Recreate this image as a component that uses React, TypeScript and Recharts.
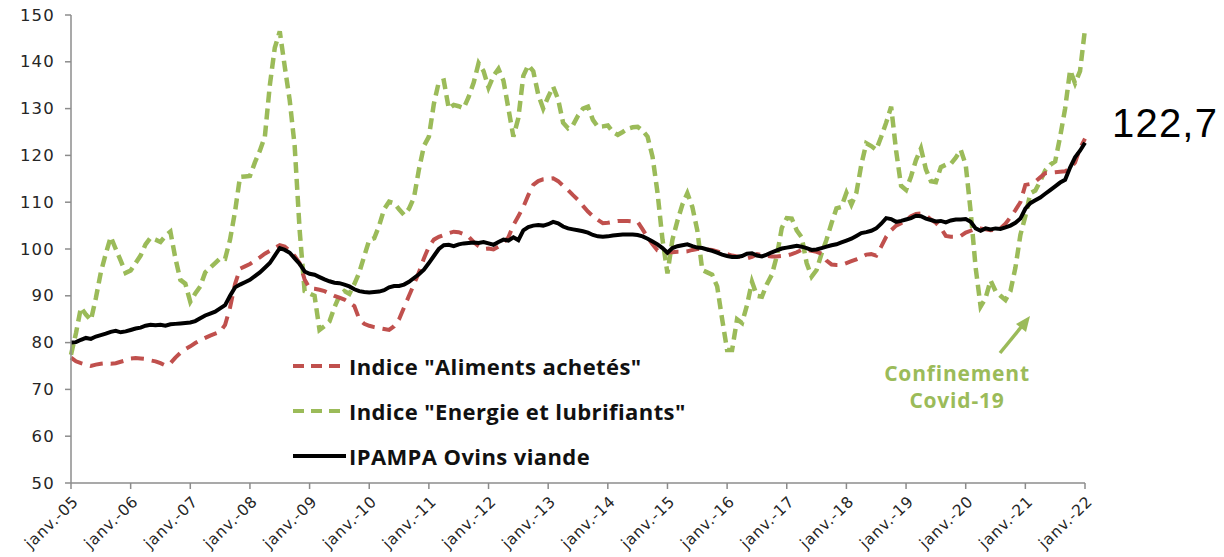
import React from "react";
import { LineChart, Line, XAxis, YAxis, Legend, Customized } from "recharts";

// Monthly index values, Jan 2005 .. Jan 2022 (205 months)
const years = ["05","06","07","08","09","10","11","12","13","14","15","16","17","18","19","20","21","22"];

const ipampa = [
  80.0, 80.1, 80.6, 81.0, 80.8, 81.3, 81.6, 81.9, 82.3, 82.5, 82.2, 82.4,
  82.7, 83.0, 83.2, 83.6, 83.8, 83.7, 83.8, 83.6, 83.9, 84.0, 84.1, 84.2,
  84.3, 84.6, 85.2, 85.8, 86.2, 86.6, 87.3, 88.0, 90.0, 91.8, 92.4, 92.9,
  93.4, 94.2, 95.0, 96.0, 97.0, 98.6, 100.2, 99.8, 99.2, 98.0, 96.8, 95.2,
  94.7, 94.5, 94.0, 93.5, 93.1, 92.8, 92.7, 92.4, 92.0, 91.4, 91.0, 90.8,
  90.7, 90.8, 90.9, 91.2, 91.8, 92.1, 92.1, 92.4, 93.0, 93.8, 94.6, 95.6,
  97.0, 98.5, 100.0, 100.8, 100.9, 100.6, 101.0, 101.2, 101.3, 101.4, 101.3, 101.5,
  101.2, 100.9, 101.5, 102.0, 101.8, 102.5, 101.9, 104.0, 104.7, 105.0, 105.1, 105.0,
  105.3, 105.8, 105.5, 104.8, 104.4, 104.2, 104.0, 103.8, 103.5, 103.0, 102.7, 102.6,
  102.7, 102.9, 103.0, 103.1, 103.1, 103.1, 103.0, 102.7, 102.2, 101.6, 101.0, 100.2,
  99.2, 100.2, 100.6, 100.8, 101.0, 100.6, 100.3, 100.2, 99.9, 99.6, 99.2, 98.8,
  98.5, 98.3, 98.3, 98.5, 99.0, 99.1, 98.6, 98.4, 98.8, 99.3, 99.7, 100.1,
  100.3, 100.5, 100.7, 100.5, 100.2, 99.8, 99.9, 100.2, 100.5, 100.8, 101.0, 101.4,
  101.8, 102.2, 102.8, 103.4, 103.6, 103.9, 104.4, 105.4, 106.6, 106.4, 105.8, 106.0,
  106.3, 106.6, 107.1, 107.0, 106.5, 106.2, 105.9, 106.0, 105.7, 106.1, 106.3, 106.3,
  106.4, 105.8, 104.4, 103.9, 104.4, 104.2, 104.4, 104.3, 104.6, 105.0, 105.6, 106.5,
  108.6, 109.8, 110.4, 111.0, 111.8, 112.6, 113.4, 114.2, 114.8, 117.4, 119.6, 121.0,
  122.7,
];

const aliments = [
  76.8, 76.0, 75.6, 75.3, 75.0, 75.3, 75.5, 75.6, 75.5, 75.6, 75.9, 76.2,
  76.6, 76.7, 76.6, 76.5, 76.2, 76.0, 75.6, 75.1, 75.6, 76.8, 77.8, 78.6,
  79.2, 79.9, 80.5, 81.0, 81.5, 81.9, 82.3, 83.8, 87.5, 92.5, 95.8, 96.3,
  96.8, 97.5, 98.2, 99.0, 99.6, 100.2, 100.8, 100.5, 99.6, 98.5, 97.0, 93.5,
  91.6, 91.5, 91.3, 91.0, 90.5, 90.0, 89.6, 89.2, 88.6, 87.8, 85.0, 84.0,
  83.6, 83.3, 83.1, 82.9, 82.7, 83.5, 85.0, 87.5, 90.0, 92.5, 95.0, 98.0,
  100.5, 102.0, 102.6, 103.0, 103.4, 103.7, 103.6, 103.2, 102.6, 101.5, 100.6, 100.0,
  100.1, 99.9, 100.5, 101.3, 102.5, 105.1, 107.0, 109.0, 111.5, 113.7, 114.5, 114.9,
  115.0, 115.1, 114.5, 113.5, 112.6, 111.5, 110.5, 109.2, 108.0, 107.0, 106.2, 105.5,
  105.6, 105.8, 106.0, 106.0, 106.0, 105.9, 105.8, 104.2, 102.5, 101.0, 99.7, 99.4,
  99.3, 99.3, 99.4, 99.4, 99.5, 99.8, 100.0, 100.0, 99.9, 99.8, 99.5, 99.2,
  98.9, 98.6, 98.4, 98.2, 98.0, 98.3, 98.9, 98.7, 98.5, 98.4, 98.4, 98.5,
  98.6, 98.9, 99.3, 99.8, 99.8, 99.6, 99.4, 99.0, 97.5, 96.7, 96.6, 96.6,
  97.0, 97.4, 97.8, 98.3, 98.8, 98.9, 98.6, 100.5, 102.6, 104.0, 105.0, 105.5,
  106.2, 107.0, 107.5, 107.6, 107.2, 106.3, 105.6, 104.5, 102.8, 102.6, 102.6, 102.8,
  103.5, 103.9, 104.3, 104.4, 104.2, 104.0, 104.1, 104.4, 105.4, 106.8, 108.3, 110.0,
  113.7, 113.9, 114.4, 115.3, 116.2, 116.3, 116.4, 116.5, 116.6, 117.2, 118.5, 121.5,
  123.6,
];

const energie = [
  77.4, 82.0, 87.5, 86.0, 84.8, 89.5, 95.0, 99.0, 102.6, 100.0, 97.5, 94.9,
  95.4, 97.0, 98.6, 101.0, 102.4, 102.0, 101.5, 102.8, 103.7, 98.0, 93.4, 92.6,
  88.7, 90.5, 92.0, 95.0, 96.0, 97.0, 98.0, 97.9, 102.0, 108.0, 115.4, 115.5,
  115.6, 118.5, 121.0, 124.0, 135.0, 143.0, 146.5, 139.0, 131.8, 122.0, 104.0, 91.0,
  90.5, 90.0, 82.7, 83.5, 84.5, 87.5, 90.0, 91.0, 90.4, 92.5, 95.0, 98.5,
  101.9, 102.3, 105.0, 108.5, 110.1, 109.8, 108.5, 107.3, 108.6, 111.0, 117.0, 122.0,
  124.0, 131.0, 135.7, 136.0, 130.0, 130.8, 130.5, 130.1, 132.5, 135.5, 139.7, 138.0,
  134.5, 137.0, 138.5, 136.0, 130.0, 124.0, 128.0, 137.0, 139.3, 138.0, 133.0, 130.0,
  132.5, 134.7, 132.0, 127.0, 125.8, 126.5, 128.5, 130.0, 130.4, 127.6, 126.1, 126.2,
  126.4, 125.0, 124.4, 125.0, 125.7, 126.0, 126.1, 125.3, 124.0, 119.7, 112.0, 102.0,
  94.8, 102.0, 106.0, 109.5, 111.9, 109.0, 104.0, 95.5, 95.0, 94.5, 92.0, 85.0,
  78.4, 78.4, 85.0, 84.2, 88.0, 93.0, 90.0, 89.8, 92.5, 94.5, 98.5, 104.5,
  106.6, 106.5, 104.0, 102.5, 97.0, 94.1, 95.5, 99.0, 102.0, 105.5, 108.7, 109.0,
  112.0, 109.5, 112.0, 118.0, 122.6, 122.0, 121.2, 124.0, 127.0, 130.4, 121.0, 113.5,
  112.6, 115.5, 119.0, 121.5, 117.0, 114.5, 114.3, 117.5, 118.0, 118.2, 119.5, 121.2,
  118.0, 108.0, 96.0, 87.7, 89.5, 93.3, 91.0, 90.0, 89.1, 91.0, 96.0, 103.0,
  107.0, 111.9, 112.5, 114.5, 116.8, 118.0, 118.7, 124.0, 130.0, 138.2, 135.4, 138.0,
  147.0,
];

const yTicks = [50, 60, 70, 80, 90, 100, 110, 120, 130, 140, 150];
const xTicks = years.map((_, i) => i * 12);

const data = ipampa.map((v, i) => ({
  m: i,
  aliments: aliments[i],
  energie: energie[i],
  ipampa: v,
}));

const GREEN = "#9BBB59";
const RED = "#C0504D";
const AXIS = "#8C8C8C";
const FONT = "'DejaVu Sans', sans-serif";
const BOLD = "'Open Sans', sans-serif";

const XTick = (props: any) => {
  const { x, y, payload } = props;
  const label = `janv.-${years[Math.round(payload.value / 12)]}`;
  return (
    <g transform={`translate(${x + 5},${y + 8})`}>
      <text
        transform="rotate(-44)"
        textAnchor="end"
        dominantBaseline="central"
        fontSize={15.5}
        letterSpacing={0.7}
        fontFamily={FONT}
        fill="#262626"
      >
        {label}
      </text>
    </g>
  );
};

const YTick = (props: any) => {
  const { x, y, payload } = props;
  return (
    <text x={x} y={y} textAnchor="end" dominantBaseline="central" fontSize={16.5} letterSpacing={1.2} fontFamily={FONT} fill="#262626">
      {payload.value}
    </text>
  );
};

const legendItems = [
  { label: 'Indice "Aliments achetés"', color: RED, dash: "11 7", width: 4 },
  { label: 'Indice "Energie et lubrifiants"', color: GREEN, dash: "11 7", width: 4 },
  { label: "IPAMPA Ovins viande", color: "#000", dash: undefined, width: 4 },
];

const LegendBox = () => (
  <svg width={440} height={120} style={{ display: "block", overflow: "visible" }}>
    {legendItems.map((it, i) => (
      <g key={i} transform={`translate(0,${13 + i * 45})`}>
        <line x1={2} y1={0} x2={55} y2={0} stroke={it.color} strokeWidth={it.width} strokeDasharray={it.dash} />
        <text x={58} y={0} dominantBaseline="central" fontSize={22} letterSpacing={0.4} fontWeight={700} fontFamily={BOLD} fill="#111">
          {it.label}
        </text>
      </g>
    ))}
  </svg>
);

const Annotations = () => (
  <g>
    <text x={1104} y={129} fontSize={40} letterSpacing={1.2} fontFamily="'Liberation Sans', Arial, sans-serif" fill="#000">
      122,7
    </text>
    <text x={949} y={373} textAnchor="middle" fontSize={21} letterSpacing={0.8} fontWeight={700} fontFamily={BOLD} fill={GREEN}>
      Confinement
    </text>
    <text x={949} y={400} textAnchor="middle" fontSize={21} letterSpacing={0.8} fontWeight={700} fontFamily={BOLD} fill={GREEN}>
      Covid-19
    </text>
    <line x1={992} y1={345} x2={1014} y2={318} stroke={GREEN} strokeWidth={3.5} />
    <polygon points="1022,308 1008,316 1018,324" fill={GREEN} />
  </g>
);

export default function App() {
  return (
    <div style={{ width: 1216, height: 549, position: "relative" }}>
      <style>{`.recharts-surface { overflow: visible; }`}</style>
      <LineChart
        width={1216}
        height={549}
        data={data}
        margin={{ top: 7, right: 139, bottom: 0, left: 0 }}
      >
        <XAxis
          dataKey="m"
          type="number"
          domain={[0, 204]}
          ticks={xTicks}
          interval={0}
          height={74}
          stroke={AXIS}
          strokeWidth={1.5}
          tickSize={6}
          tick={<XTick />}
        />
        <YAxis
          type="number"
          domain={[50, 150]}
          ticks={yTicks}
          interval={0}
          width={63}
          stroke={AXIS}
          strokeWidth={1.5}
          tickSize={6}
          tickMargin={10}
          tick={<YTick />}
        />
        <Legend
          verticalAlign="middle"
          align="center"
          layout="horizontal"
          wrapperStyle={{ position: "absolute", left: 283, top: 345, width: 440 }}
          content={() => <LegendBox />}
        />
        <Line
          type="linear"
          dataKey="energie"
          name='Indice "Energie et lubrifiants"'
          stroke={GREEN}
          strokeWidth={4.5}
          strokeDasharray="11 6"
          dot={false}
          isAnimationActive={false}
        />
        <Line
          type="linear"
          dataKey="aliments"
          name='Indice "Aliments achetés"'
          stroke={RED}
          strokeWidth={4}
          strokeDasharray="13 8"
          dot={false}
          isAnimationActive={false}
        />
        <Line
          type="linear"
          dataKey="ipampa"
          name="IPAMPA Ovins viande"
          stroke="#000"
          strokeWidth={4}
          dot={false}
          isAnimationActive={false}
        />
        <Customized component={<Annotations />} />
      </LineChart>
    </div>
  );
}
